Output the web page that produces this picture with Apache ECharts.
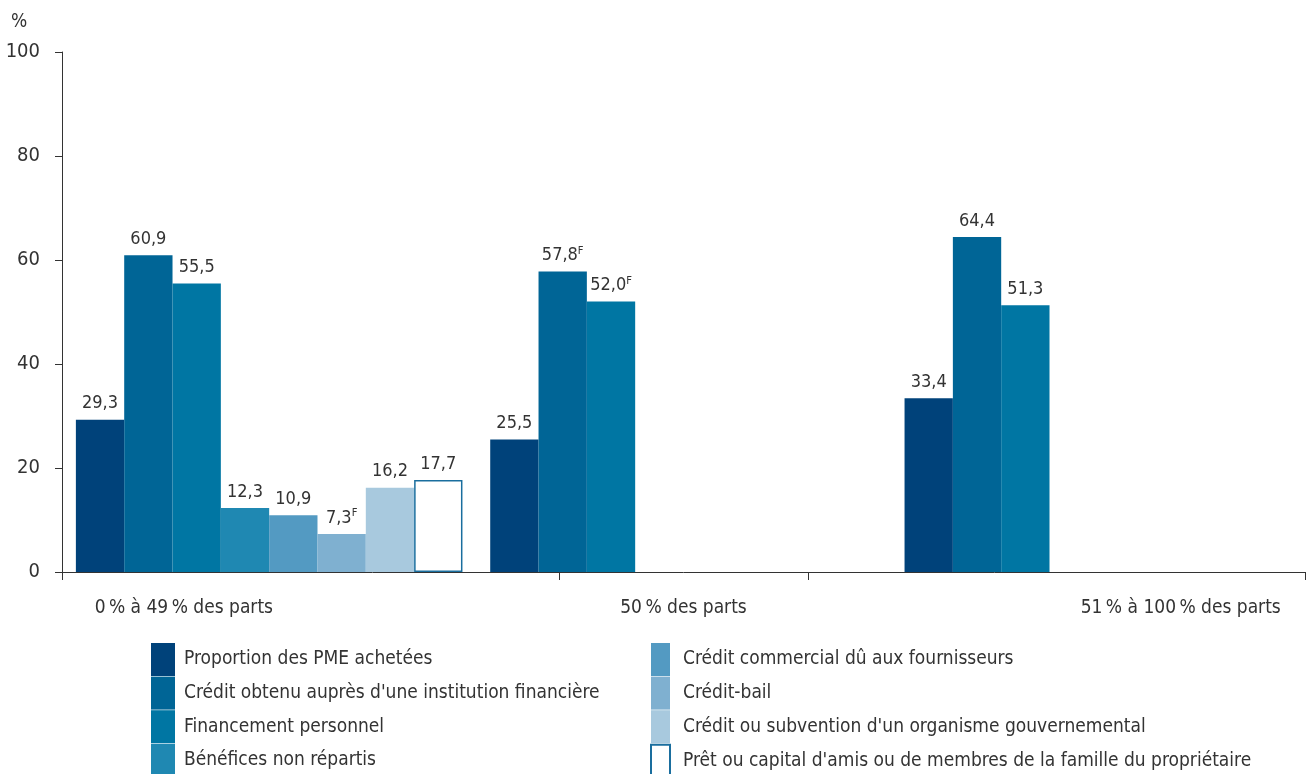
<!DOCTYPE html>
<html>
<head>
<meta charset="utf-8">
<script src="https://cdn.jsdelivr.net/npm/echarts@6/dist/echarts.min.js"></script>
<style>html,body{margin:0;padding:0;background:#fff}#c{width:1309px;height:774px}</style>
</head>
<body>
<div id="c"></div>
<script>
var categories = ['0\u202f% à 49\u202f% des parts', '50\u202f% des parts', '51\u202f% à 100\u202f% des parts'];
var seriesNames = [
  'Proportion des PME achetées',
  'Crédit obtenu auprès d\'une institution financière',
  'Financement personnel',
  'Bénéfices non répartis',
  'Crédit commercial dû aux fournisseurs',
  'Crédit-bail',
  'Crédit ou subvention d\'un organisme gouvernemental',
  'Prêt ou capital d\'amis ou de membres de la famille du propriétaire'
];
var proportion = [29.3, 25.5, 33.4];
var creditInstitution = [60.9, 57.8, 64.4];
var financementPersonnel = [55.5, 52.0, 51.3];
var benefices = [12.3, null, null];
var creditCommercial = [10.9, null, null];
var creditBail = [7.3, null, null];
var subvention = [16.2, null, null];
var pretAmis = [17.7, null, null];
// "F" quality flags (use with caution)
var flagF = [
  [false, false, false],
  [false, true, false],
  [false, true, false],
  [false, false, false],
  [false, false, false],
  [true, false, false],
  [false, false, false],
  [false, false, false]
];
var yTicks = [0, 20, 40, 60, 80, 100];

var allValues = [proportion, creditInstitution, financementPersonnel, benefices, creditCommercial, creditBail, subvention, pretAmis];
var colors = ['#00427a', '#006596', '#0076a3', '#1f88b2', '#539ac2', '#7fb0d0', '#a8c9de', '#ffffff'];
var FONT = "'DejaVu Sans Condensed', 'Liberation Sans Narrow', sans-serif";
var TXT = '#333333';

var labelPos = [0.098, 0.5, 0.9];

var series = allValues.map(function (vals, si) {
  return {
    name: seriesNames[si],
    type: 'bar',
    xAxisIndex: 0,
    barGap: '0%',
    barCategoryGap: '6.7%',
    data: vals,
    itemStyle: si === 7 ? { color: '#ffffff', borderColor: '#1a6e9e', borderWidth: 1.5 } : { color: colors[si] },
    label: {
      show: true,
      position: 'top',
      distance: 6,
      formatter: function (p) {
        if (p.value == null) return '';
        var s = '{a|' + p.value.toFixed(1).replace('.', ',') + '}';
        if (flagF[si][p.dataIndex]) s += '{s|F}';
        return s;
      },
      rich: {
        a: { fontFamily: FONT, fontSize: 18, color: TXT, lineHeight: 20 },
        s: { fontFamily: FONT, fontSize: 11, color: TXT, verticalAlign: 'top', lineHeight: 20, padding: [0, 0, 9, 0] }
      }
    }
  };
});

var chart = echarts.init(document.getElementById('c'));
chart.setOption({
  animation: false,
  color: colors,
  grid: { left: 62, right: 4, top: 52, bottom: 202, containLabel: false },
  graphic: [{ type: 'text', left: 11, top: 13, style: { text: '%', font: "19px " + FONT, fill: TXT } }],
  xAxis: [{
    type: 'category',
    data: categories,
    position: 'bottom',
    axisLine: { show: true, lineStyle: { color: '#333', width: 1 } },
    axisTick: { show: false },
    axisLabel: { show: false },
    splitLine: { show: false }
  }, {
    type: 'value',
    position: 'bottom',
    min: 0, max: 1,
    axisLine: { show: false },
    splitLine: { show: false },
    axisTick: { show: true, customValues: [0, 0.4, 0.6, 1], length: 8, lineStyle: { color: '#333' } },
    axisLabel: {
      show: true,
      customValues: labelPos,
      margin: 27,
      fontFamily: FONT, fontSize: 19, color: TXT,
      formatter: function (v) {
        for (var i = 0; i < labelPos.length; i++) if (Math.abs(labelPos[i] - v) < 1e-6) return categories[i];
        return '';
      }
    }
  }],
  yAxis: {
    type: 'value',
    min: 0, max: 100, interval: 20,
    axisLine: { show: true, lineStyle: { color: '#333' } },
    axisTick: { show: true, length: 7, lineStyle: { color: '#333' } },
    axisLabel: { margin: 22, fontFamily: FONT, fontSize: 20, color: TXT,
      formatter: function (v) { return yTicks.indexOf(v) >= 0 ? String(v) : ''; } },
    splitLine: { show: false }
  },
  legend: [{
    orient: 'vertical', left: 151, top: 643, height: 150, width: 480, padding: 0,
    itemWidth: 24, itemHeight: 33, itemGap: 0.6,
    icon: 'rect',
    data: seriesNames.slice(0, 4),
    textStyle: { fontFamily: FONT, fontSize: 19, color: TXT, padding: [0, 0, 0, 4] },
    selectedMode: false
  }, {
    orient: 'vertical', left: 650, top: 643, height: 150, width: 650, padding: 0,
    itemWidth: 19, itemHeight: 33, itemGap: 0.6,
    icon: 'rect',
    data: seriesNames.slice(4),
    textStyle: { fontFamily: FONT, fontSize: 19, color: TXT, padding: [0, 0, 0, 8] },
    selectedMode: false
  }],
  series: series
});
</script>
</body>
</html>
